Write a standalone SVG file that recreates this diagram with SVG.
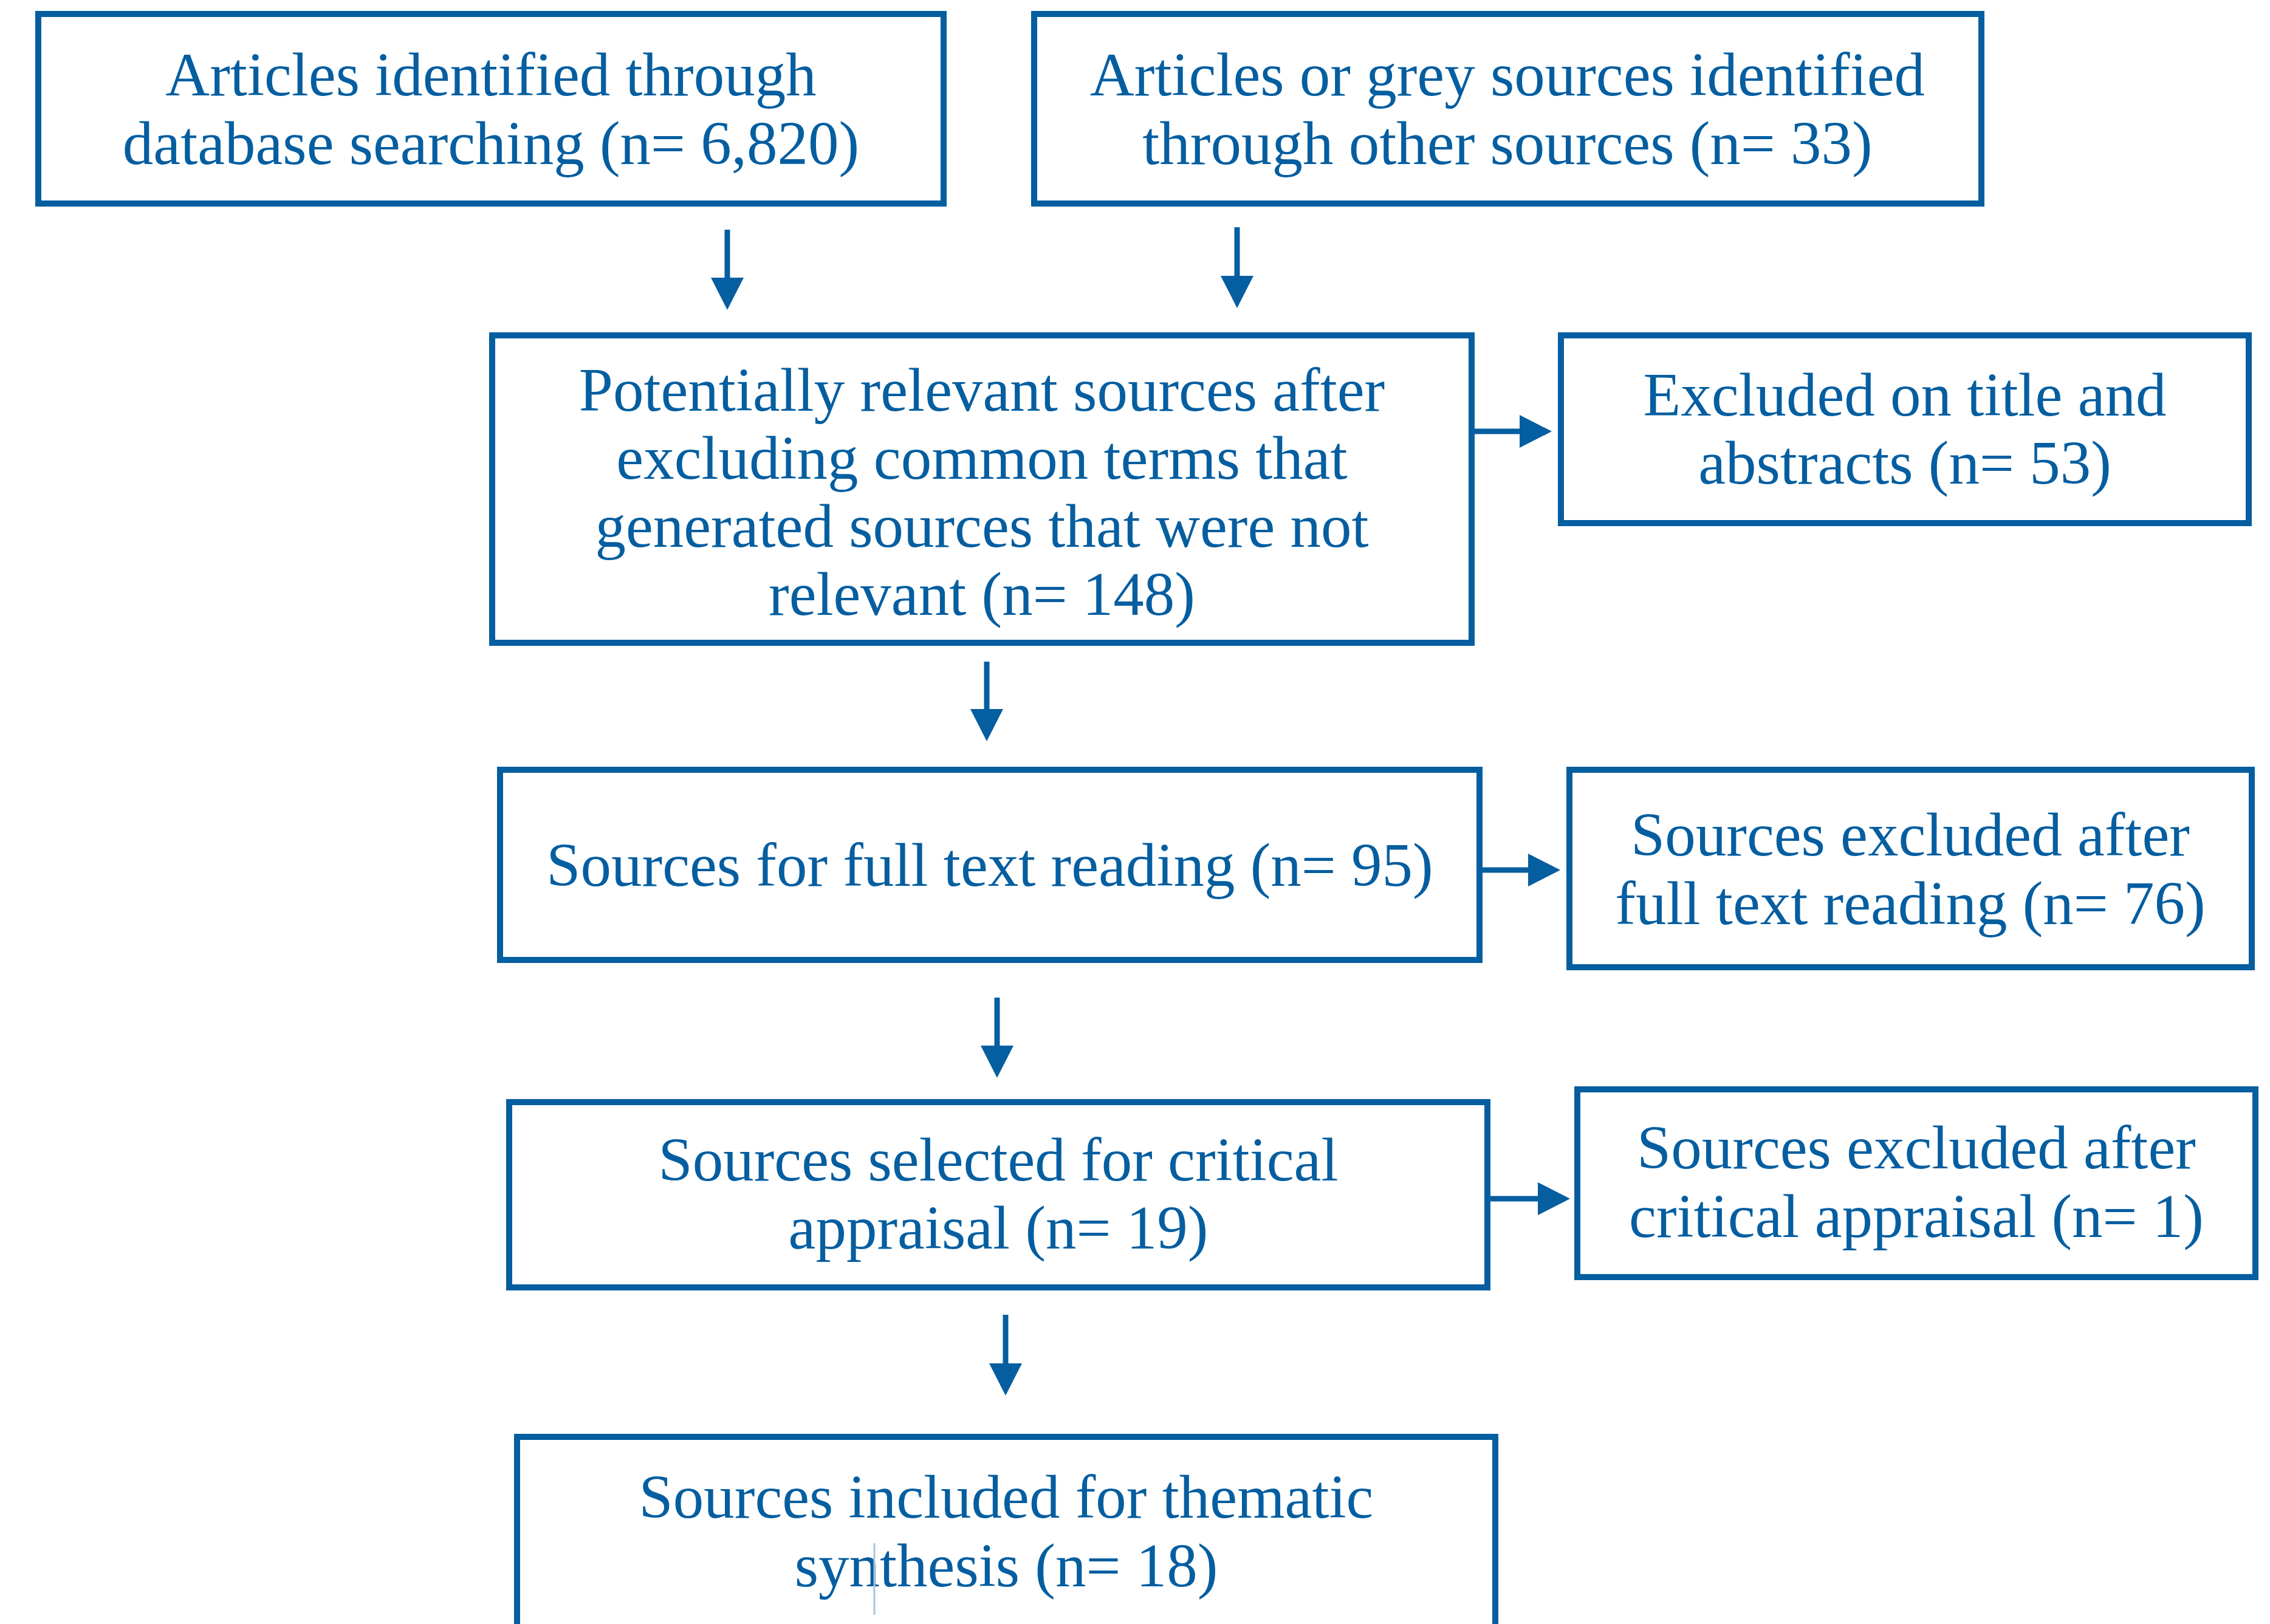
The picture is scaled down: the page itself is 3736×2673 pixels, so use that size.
<svg xmlns="http://www.w3.org/2000/svg" width="3736" height="2673" viewBox="0 0 3736 2673">
<style>
.box{fill:#ffffff;stroke:#055EA0;stroke-width:10}
.t{font-family:"Liberation Serif","Times New Roman",serif;font-size:101px;fill:#055EA0;text-anchor:middle}
.c{stroke:#055EA0;stroke-width:9;fill:none;marker-end:url(#ah)}
</style>
<defs>
<marker id="ah" markerUnits="userSpaceOnUse" markerWidth="54" markerHeight="56" refX="33" refY="27" orient="auto" viewBox="0 0 54 54">
<path d="M0,0 L53,27 L0,54 Z" fill="#055EA0"/>
</marker>
</defs>
<rect width="3736" height="2673" fill="#ffffff"/>
<g id="n1"><rect class="box" x="63" y="23" width="1490" height="312"/>
<text class="t" x="808" y="157">Articles identified through</text>
<text class="t" x="808" y="270">database searching (n= 6,820)</text></g>
<g id="n2"><rect class="box" x="1702" y="23" width="1559" height="312"/>
<text class="t" x="2481" y="157">Articles or grey sources identified</text>
<text class="t" x="2481" y="270">through other sources (n= 33)</text></g>
<g id="n3"><rect class="box" x="810" y="552" width="1612" height="506"/>
<text class="t" x="1616" y="676">Potentially relevant sources after</text>
<text class="t" x="1616" y="788">excluding common terms that</text>
<text class="t" x="1616" y="900">generated sources that were not</text>
<text class="t" x="1616" y="1012">relevant (n= 148)</text></g>
<g id="n4"><rect class="box" x="2569" y="552" width="1132" height="309"/>
<text class="t" x="3135" y="684">Excluded on title and</text>
<text class="t" x="3135" y="796">abstracts (n= 53)</text></g>
<g id="n5"><rect class="box" x="823" y="1267" width="1612" height="313"/>
<text class="t" x="1629" y="1458">Sources for full text reading (n= 95)</text></g>
<g id="n6"><rect class="box" x="2583" y="1267" width="1123" height="325"/>
<text class="t" x="3144" y="1408">Sources excluded after</text>
<text class="t" x="3144" y="1521">full text reading (n= 76)</text></g>
<g id="n7"><rect class="box" x="838" y="1814" width="1610" height="305"/>
<text class="t" x="1643" y="1943">Sources selected for critical</text>
<text class="t" x="1643" y="2055">appraisal (n= 19)</text></g>
<g id="n8"><rect class="box" x="2596" y="1793" width="1116" height="309"/>
<text class="t" x="3154" y="1923">Sources excluded after</text>
<text class="t" x="3154" y="2036">critical appraisal (n= 1)</text></g>
<g id="n9"><rect class="box" x="851" y="2365" width="1610" height="400"/>
<text class="t" x="1656" y="2498">Sources included for thematic</text>
<text class="t" x="1656" y="2611">synthesis (n= 18)</text>
<line x1="1439" y1="2540" x2="1439" y2="2658" stroke="#A9C5DD" stroke-width="3"/></g>
<g id="connectors">
<line class="c" x1="1197" y1="378" x2="1197" y2="490"/>
<line class="c" x1="2036" y1="374" x2="2036" y2="487"/>
<line class="c" x1="2427" y1="710" x2="2534" y2="710"/>
<line class="c" x1="1624" y1="1089" x2="1624" y2="1200"/>
<line class="c" x1="2440" y1="1432" x2="2548" y2="1432"/>
<line class="c" x1="1641" y1="1642" x2="1641" y2="1754"/>
<line class="c" x1="2453" y1="1973" x2="2564" y2="1973"/>
<line class="c" x1="1655" y1="2164" x2="1655" y2="2277"/>
</g>
</svg>
